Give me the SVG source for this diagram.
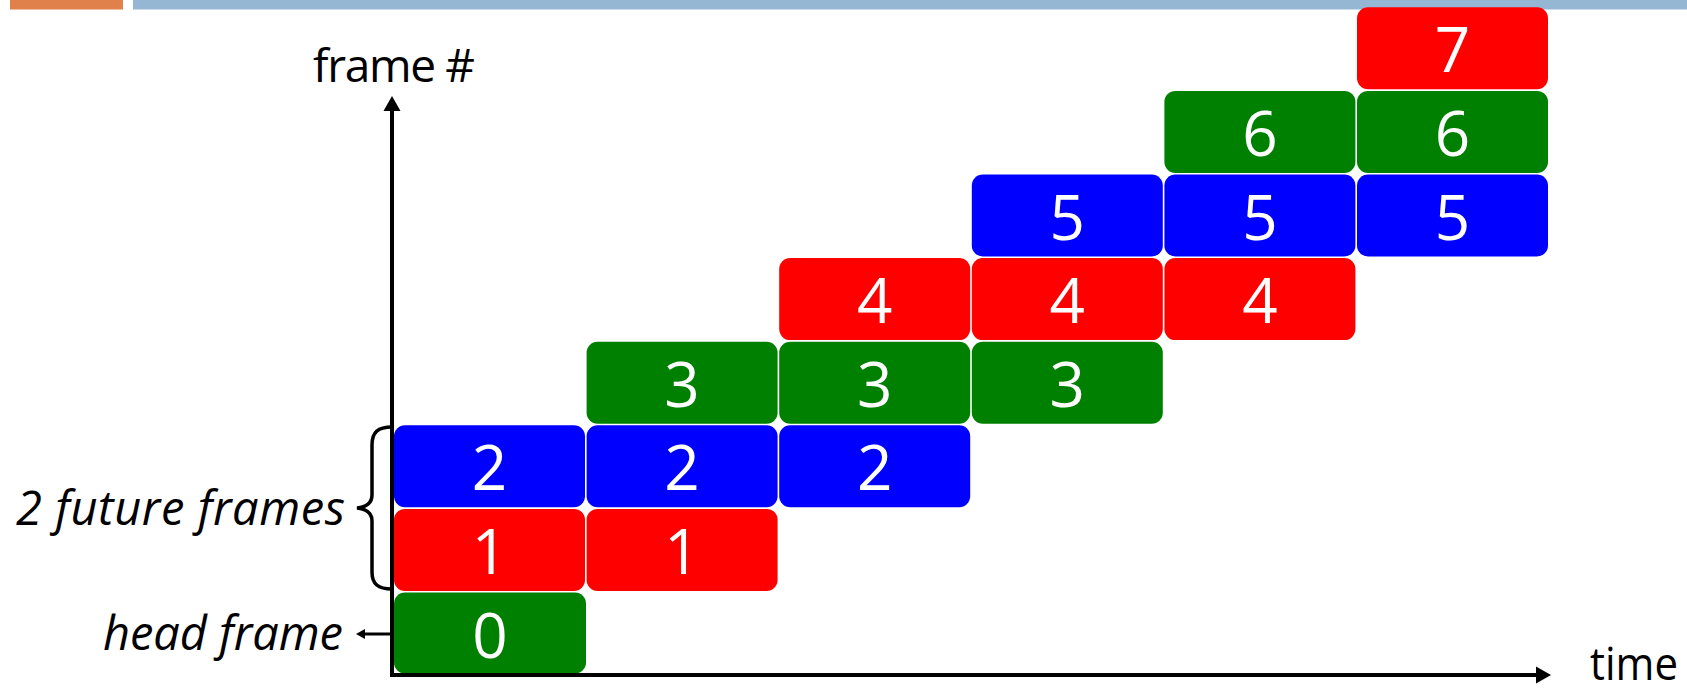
<svg xmlns="http://www.w3.org/2000/svg" width="1687" height="693" viewBox="0 0 1687 693">
<defs>
<style>
.g{fill:#008000}.r{fill:#FF0000}.b{fill:#0000FF}
.num{font-family:"Open Sans","Liberation Sans",sans-serif;font-size:62px;fill:#FFFFFF;text-anchor:middle}
.lbl{font-family:"Open Sans","Liberation Sans",sans-serif;font-size:46px;fill:#000000}
.it{font-family:"Open Sans","Liberation Sans",sans-serif;font-size:47px;font-style:italic;fill:#000000}
.ax{stroke:#000000;stroke-width:4;fill:none}
</style>
<marker id="ah" markerUnits="userSpaceOnUse" markerWidth="20" markerHeight="20" viewBox="0 -10 16 20" refX="0" refY="0" orient="auto"><path d="M0,-8.5 L15,0 L0,8.5 z" fill="#000000"/></marker>
<marker id="ahs" markerUnits="userSpaceOnUse" markerWidth="12" markerHeight="12" viewBox="0 -6 10 12" refX="0" refY="0" orient="auto"><path d="M0,-5 L9,0 L0,5 z" fill="#000000"/></marker>
</defs>
<rect x="10" y="0" width="113" height="9.5" fill="#E0804A"/>
<rect x="133" y="0" width="1554" height="9.5" fill="#95B7D4"/>
<g id="c0r0"><rect class="g" x="394" y="592.5" width="192" height="81" rx="11"/><text class="num" x="490" y="657.5">0</text></g>
<g id="c0r1"><rect class="r" x="394" y="508.9" width="191" height="82" rx="11"/><text class="num" x="489.5" y="573.9">1</text></g>
<g id="c0r2"><rect class="b" x="394" y="425.3" width="191" height="82" rx="11"/><text class="num" x="489.5" y="490.3">2</text></g>
<g id="c1r1"><rect class="r" x="586.6" y="508.9" width="191" height="82" rx="11"/><text class="num" x="682.1" y="573.9">1</text></g>
<g id="c1r2"><rect class="b" x="586.6" y="425.3" width="191" height="82" rx="11"/><text class="num" x="682.1" y="490.3">2</text></g>
<g id="c1r3"><rect class="g" x="586.6" y="341.7" width="191" height="82" rx="11"/><text class="num" x="682.1" y="406.7">3</text></g>
<g id="c2r2"><rect class="b" x="779.2" y="425.3" width="191" height="82" rx="11"/><text class="num" x="874.7" y="490.3">2</text></g>
<g id="c2r3"><rect class="g" x="779.2" y="341.7" width="191" height="82" rx="11"/><text class="num" x="874.7" y="406.7">3</text></g>
<g id="c2r4"><rect class="r" x="779.2" y="258.1" width="191" height="82" rx="11"/><text class="num" x="874.7" y="323.1">4</text></g>
<g id="c3r3"><rect class="g" x="971.8" y="341.7" width="191" height="82" rx="11"/><text class="num" x="1067.3" y="406.7">3</text></g>
<g id="c3r4"><rect class="r" x="971.8" y="258.1" width="191" height="82" rx="11"/><text class="num" x="1067.3" y="323.1">4</text></g>
<g id="c3r5"><rect class="b" x="971.8" y="174.5" width="191" height="82" rx="11"/><text class="num" x="1067.3" y="239.5">5</text></g>
<g id="c4r4"><rect class="r" x="1164.4" y="258.1" width="191" height="82" rx="11"/><text class="num" x="1259.9" y="323.1">4</text></g>
<g id="c4r5"><rect class="b" x="1164.4" y="174.5" width="191" height="82" rx="11"/><text class="num" x="1259.9" y="239.5">5</text></g>
<g id="c4r6"><rect class="g" x="1164.4" y="90.9" width="191" height="82" rx="11"/><text class="num" x="1259.9" y="155.9">6</text></g>
<g id="c5r5"><rect class="b" x="1357" y="174.5" width="191" height="82" rx="11"/><text class="num" x="1452.5" y="239.5">5</text></g>
<g id="c5r6"><rect class="g" x="1357" y="90.9" width="191" height="82" rx="11"/><text class="num" x="1452.5" y="155.9">6</text></g>
<g id="c5r7"><rect class="r" x="1357" y="7.3" width="191" height="82" rx="11"/><text class="num" x="1452.5" y="72.3">7</text></g>
<g id="axes">
<line class="ax" x1="392" y1="677" x2="392" y2="111" marker-end="url(#ah)"/>
<line class="ax" x1="390" y1="675" x2="1536" y2="675" marker-end="url(#ah)"/>
</g>
<g id="labels">
<text class="lbl" x="313" y="82" textLength="162">frame #</text>
<text class="lbl" x="1590" y="680" font-size="43" textLength="88" lengthAdjust="spacingAndGlyphs">time</text>
<text class="it" x="16" y="525" textLength="329">2 future frames</text>
<text class="it" x="103" y="650" textLength="240">head frame</text>
</g>
<g id="connectors">
<line x1="392" y1="634" x2="365" y2="634" stroke="#000000" stroke-width="3" marker-end="url(#ahs)"/>
<path d="M392,427 C378,427 372,432 372,445 L372,495 C372,503 366,507 357,508 C366,509 372,513 372,521 L372,572 C372,584 378,589 392,589" stroke="#000000" stroke-width="3.5" fill="none"/>
</g>
</svg>
